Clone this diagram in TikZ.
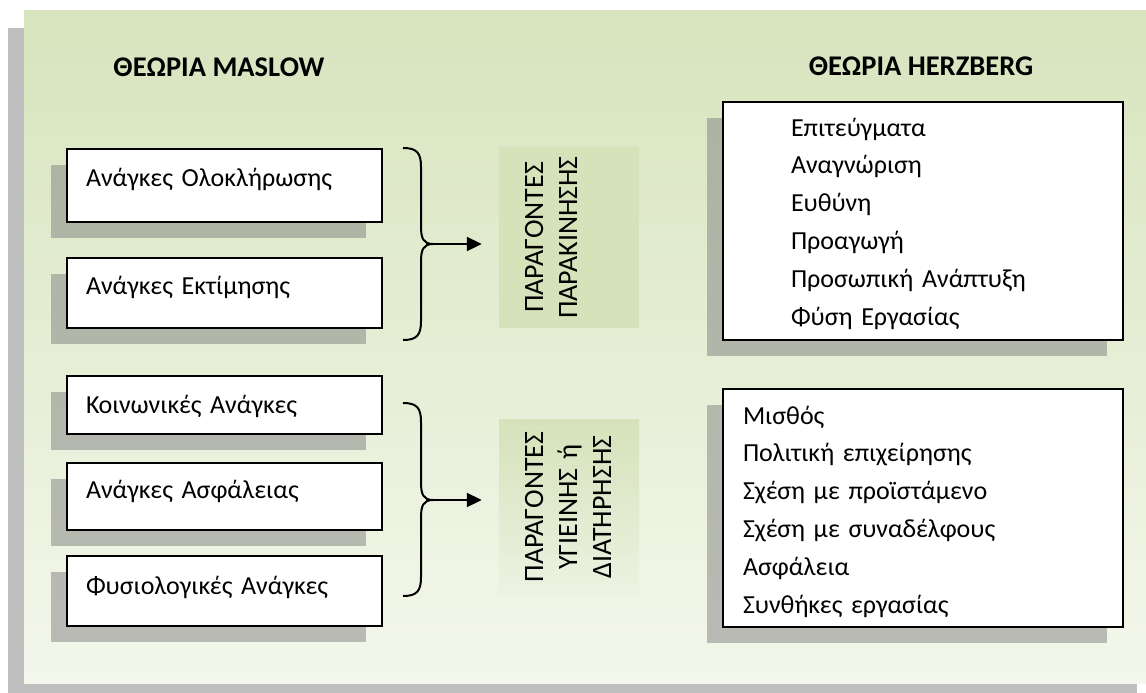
\documentclass[tikz,border=0pt]{standalone}
\usepackage{fontspec}
\setmainfont{Carlito}
\usetikzlibrary{arrows.meta,shadows,calc}
\definecolor{panelTop}{HTML}{D7E4BD}
\definecolor{panelBot}{HTML}{F4F7EC}
\definecolor{panelShadow}{HTML}{BFBFBF}
\definecolor{factorFill}{HTML}{D5E2BA}
\definecolor{factorFade}{HTML}{EDF2E2}
\begin{document}
\begin{tikzpicture}[x=1pt,y=-1pt,
  every node/.style={font=\fontsize{26}{31}\selectfont},
  boxshadow/.style={drop shadow={shadow xshift=-16pt, shadow yshift=-16pt, fill=gray, opacity=0.5}},
  needbox/.style={draw, line width=2pt, fill=white, inner xsep=19pt, inner ysep=0pt,
    text width=277pt, align=left, anchor=north west, boxshadow},
  listbox/.style={draw, line width=2pt, fill=white, inner sep=0pt, text width=400pt,
    align=left, anchor=north west, boxshadow, font=\fontsize{26}{37.8}\selectfont},
  factorbox/.style={rotate=90, inner sep=0pt, align=center, text height=44pt, text depth=96pt,
    font=\fontsize{28}{34}\selectfont},
  header/.style={font=\bfseries\fontsize{28.5}{33}\selectfont, anchor=base},
  brace/.style={line width=2pt},
  link/.style={line width=2pt, -{Triangle[length=15pt,width=14pt]}, shorten >=17pt}]

\useasboundingbox (0,0) rectangle (1146,693);

% background panel with its shadow
\fill[panelShadow] (8,28) rectangle (1137,693);
\shade[top color=panelTop, bottom color=panelBot] (24,11) rectangle (1146,683);

% column headers
\node[header] (hm) at (219,77) {ΘΕΩΡΙΑ MASLOW};
\node[header] (hh) at (921,76) {ΘΕΩΡΙΑ HERZBERG};

% Maslow needs
\node[needbox, text height=37pt, text depth=36pt] (n1) at (66,148) {Ανάγκες Ολοκλήρωσης};
\node[needbox, text height=36pt, text depth=34pt] (n2) at (66,257) {Ανάγκες Εκτίμησης};
\node[needbox, text height=37pt, text depth=21pt] (n3) at (66,375) {Κοινωνικές Ανάγκες};
\node[needbox, text height=35pt, text depth=32pt] (n4) at (66,462) {Ανάγκες Ασφάλειας};
\node[needbox, text height=38pt, text depth=32pt] (n5) at (66,555) {Φυσιολογικές Ανάγκες};

% factor groups
\node[factorbox, fill=factorFill, text width=181pt] (p1) at (569,237.5) {ΠΑΡΑΓΟΝΤΕΣ\\ΠΑΡΑΚΙΝΗΣΗΣ};
\node[factorbox, top color=factorFill, bottom color=factorFade, text width=176pt] (p2) at (569,507)
  {ΠΑΡΑΓΟΝΤΕΣ\\ΥΓΙΕΙΝΗΣ ή\\ΔΙΑΤΗΡΗΣΗΣ};

% Herzberg lists
\node[listbox, text height=34pt, text depth=204pt] (m1) at (722,101)
  {\leftskip=68pt Επιτεύγματα\\Αναγνώριση\\Ευθύνη\\Προαγωγή\\Προσωπική Ανάπτυξη\\Φύση Εργασίας\par};
\node[listbox, text height=35pt, text depth=203pt] (m2) at (722,388)
  {\leftskip=20pt Μισθός\\Πολιτική επιχείρησης\\Σχέση με προϊστάμενο\\Σχέση με συναδέλφους\\Ασφάλεια\\Συνθήκες εργασίας\par};

% braces
\coordinate (t1) at (433,244);
\coordinate (t2) at (433,500);
\draw[brace] (403,148) .. controls +(14,0) and +(0,-14) .. (421,167) -- (421,226)
  .. controls +(0,12) and +(-10,0) .. (t1)
  .. controls +(-10,0) and +(0,-12) .. (421,262) -- (421,321)
  .. controls +(0,14) and +(14,0) .. (403,340);
\draw[brace] (403,403) .. controls +(14,0) and +(0,-14) .. (421,422) -- (421,482)
  .. controls +(0,12) and +(-10,0) .. (t2)
  .. controls +(-10,0) and +(0,-12) .. (421,518) -- (421,577)
  .. controls +(0,14) and +(14,0) .. (403,596);

% arrows to the factor groups
\draw[link] (t1) -- (t1 -| p1.north);
\draw[link] (t2) -- (t2 -| p2.north);
\end{tikzpicture}
\end{document}
